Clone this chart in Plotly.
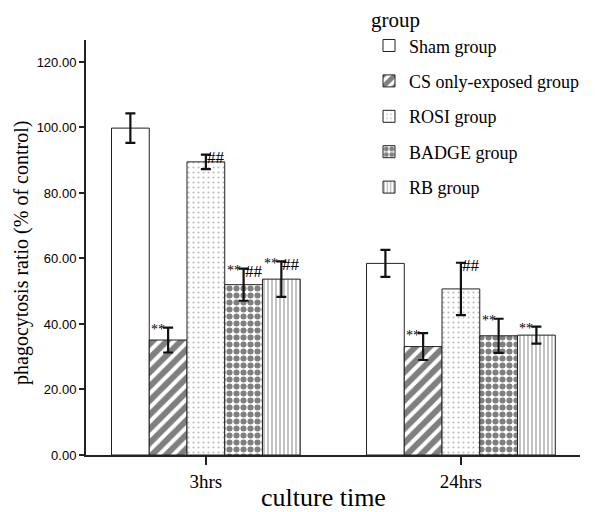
import plotly.graph_objects as go

categories = ["3hrs", "24hrs"]
groups = ["Sham group", "CS only-exposed group", "ROSI group", "BADGE group", "RB group"]
means = {
    "Sham group": [99.8, 58.5],
    "CS only-exposed group": [35.1, 33.1],
    "ROSI group": [89.5, 50.7],
    "BADGE group": [52.0, 36.4],
    "RB group": [53.7, 36.6],
}
errors = {
    "Sham group": [4.5, 4.1],
    "CS only-exposed group": [3.8, 4.1],
    "ROSI group": [2.2, 8.0],
    "BADGE group": [4.9, 5.2],
    "RB group": [5.4, 2.6],
}
# significance labels per group per category
stars = {
    "Sham group": ["", ""],
    "CS only-exposed group": ["**", "**"],
    "ROSI group": ["", ""],
    "BADGE group": ["**", "**"],
    "RB group": ["**", "**"],
}
hashes = {
    "Sham group": ["", ""],
    "CS only-exposed group": ["", ""],
    "ROSI group": ["##", "##"],
    "BADGE group": ["##", ""],
    "RB group": ["##", ""],
}
y_ticks = [0, 20, 40, 60, 80, 100, 120]
y_tick_text = ["%.2f" % v for v in y_ticks]

patterns = {
    "Sham group": dict(shape="", fgcolor="black", bgcolor="white"),
    "CS only-exposed group": dict(shape="/", fgcolor="black", bgcolor="white", size=10, solidity=0.6),
    "ROSI group": dict(shape=".", fgcolor="#777777", bgcolor="white", size=5, solidity=0.15),
    "BADGE group": dict(shape=".", fgcolor="black", bgcolor="white", size=7, solidity=0.6),
    "RB group": dict(shape="|", fgcolor="#555555", bgcolor="white", size=4, solidity=0.35),
}

SERIF = "Liberation Serif, Times New Roman, serif"
SANS = "Liberation Sans, Arial, sans-serif"

fig = go.Figure()
for g in groups:
    fig.add_trace(go.Bar(
        name=g, x=categories, y=means[g],
        marker=dict(color="white", line=dict(color="#222", width=1), pattern=patterns[g]),
        error_y=dict(type="data", array=errors[g], color="#111", thickness=2.2, width=5),
        legendgroup=g,
    ))

# page body has an 8px margin; target plot box in window pixels
OFF = 8
PX0, PX1, PY0, PY1 = 86, 580, 40, 455
W, H = 600 - OFF, 512 - OFF
L, T = PX0 - OFF, PY0 - OFF
R, B = W - (PX1 - OFF), H - (PY1 - OFF)


def paper_x(sx):
    return (sx - PX0) / (PX1 - PX0)


def paper_y(sy):
    return (PY1 - sy) / (PY1 - PY0)


xr = [-0.47, 1.467]
px_per_cat = (PX1 - PX0) / (xr[1] - xr[0])
bargap = 0.26
bar_px = px_per_cat * (1 - bargap) / len(groups)

annotations = []
for j, g in enumerate(groups):
    for i, c in enumerate(categories):
        top = means[g][i] + errors[g][i]
        center = (j - (len(groups) - 1) / 2) * bar_px
        if stars[g][i]:
            annotations.append(dict(x=c, y=top, xref="x", yref="y", text=stars[g][i],
                                    showarrow=False, xshift=center - 10, yshift=-2,
                                    borderpad=0,
                                    font=dict(family=SERIF, size=14, color="black")))
        if hashes[g][i]:
            annotations.append(dict(x=c, y=top, xref="x", yref="y", text=hashes[g][i],
                                    showarrow=False, xshift=center + 10, yshift=-3,
                                    borderpad=0,
                                    font=dict(family=SERIF, size=17, color="black")))

annotations.append(dict(text="culture time", xref="paper", yref="paper",
                        x=paper_x(323), y=paper_y(497),
                        xanchor="center", yanchor="middle", showarrow=False,
                        font=dict(family=SERIF, size=26, color="black")))
annotations.append(dict(text="phagocytosis ratio (% of control)", xref="paper", yref="paper",
                        x=paper_x(21), y=paper_y(253),
                        xanchor="center", yanchor="middle", showarrow=False, textangle=-90,
                        font=dict(family=SERIF, size=20, color="black")))

fig.update_layout(
    width=W, height=H,
    margin=dict(l=L, r=R, t=T, b=B, autoexpand=False),
    paper_bgcolor="white", plot_bgcolor="white",
    barmode="group", bargap=bargap, bargroupgap=0,
    showlegend=True,
    legend=dict(
        title=dict(text="group", font=dict(family=SERIF, size=21, color="black")),
        font=dict(family=SERIF, size=18, color="black"),
        x=paper_x(369), y=paper_y(0),
        xanchor="left", yanchor="top",
        bgcolor="rgba(0,0,0,0)", traceorder="grouped", tracegroupgap=9,
    ),
    annotations=annotations,
    xaxis=dict(
        type="category", range=xr, showgrid=False, zeroline=False,
        showline=True, linecolor="#222", linewidth=1.5,
        ticks="outside", ticklen=8, tickwidth=1.5, tickcolor="#222",
        tickfont=dict(family=SERIF, size=19, color="black"),
    ),
    yaxis=dict(
        range=[0, 126.7], showgrid=False, zeroline=False,
        showline=True, linecolor="#222", linewidth=2,
        ticks="outside", ticklen=5, tickwidth=1.5, tickcolor="#222",
        tickvals=y_ticks, ticktext=y_tick_text,
        tickfont=dict(family=SANS, size=13, color="black"),
    ),
)

fig.write_html("out.html")
